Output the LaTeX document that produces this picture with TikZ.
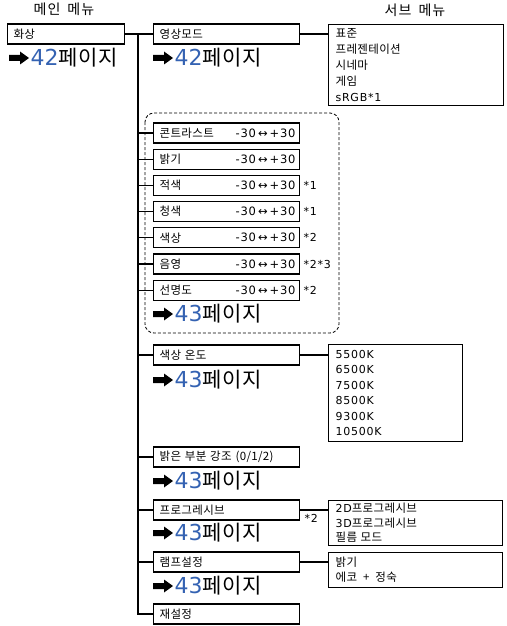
\documentclass[tikz,border=0pt]{standalone}
\usepackage{fontspec}
\setmainfont[LetterSpace=7]{DejaVu Sans}
\newfontfamily\numfont{DejaVu Sans}
\newfontfamily\kr[LetterSpace=3]{Noto Sans CJK KR}
\definecolor{refblue}{RGB}{52,98,178}
\newcommand\pgref[1]{{\numfont\fontsize{22}{22}\selectfont\color{refblue}#1}{\kr\fontsize{21}{21}\selectfont 페이지}}
\begin{document}
\begin{tikzpicture}[x=1pt,y=-1pt,line width=1.15pt,
  mbox/.style={draw,anchor=west,minimum height=20pt,inner xsep=6pt,inner ysep=0pt,
    text width=#1,align=left,font=\kr\fontsize{11.5}{13}\selectfont},
  mbox/.default=134pt,
  smenu/.style={draw,anchor=north west,align=left,inner xsep=7pt,inner ysep=0pt,text width=#1},
  pref/.style={anchor=west,inner sep=0pt},
  val/.style={anchor=east,inner sep=0pt,font=\fontsize{11.5}{13}\selectfont},
  note/.style={anchor=west,inner sep=0pt,font=\fontsize{11}{13}\selectfont},
  ttl/.style={inner sep=0pt,font=\kr\fontsize{14}{16}\selectfont},
  dashframe/.style={draw,dash pattern=on 3pt off 2pt,line width=0.8pt,rounded corners=9pt}]
\useasboundingbox (0,0) rectangle (506,626);

% titles
\node[ttl] (t1) at (64,9) {메\kern1pt인\hspace{7pt}메\kern1pt뉴};
\node[ttl] (t2) at (415,10) {서\kern1pt브\hspace{7pt}메\kern1pt뉴};

% main menu
\node[mbox=105pt] (main) at (7,34) {화상};
\node[pref] (p0) at (30,58) {\pgref{42}};

% sub menu boxes
\node[mbox] (vid) at (153,34) {영상모드};
\node[pref] (p1) at (174,58) {\pgref{42}};

\draw[dashframe] (145,113) rectangle (339,333);
\node[mbox] (c1) at (153,133) {콘트라스트};
\node[mbox] (c2) at (153,159.2) {밝기};
\node[mbox] (c3) at (153,185.4) {적색};
\node[mbox] (c4) at (153,211.6) {청색};
\node[mbox] (c5) at (153,237.8) {색상};
\node[mbox] (c6) at (153,264) {음영};
\node[mbox] (c7) at (153,290.2) {선명도};
\foreach \n in {c1,c2,c3,c4,c5,c6,c7}{
  \node[val] (v\n) at ([xshift=-4pt]\n.east) {-30\hspace{2pt}↔\hspace{2pt}+30};
}
\node[note] (n3) at (303,185.4) {*1};
\node[note] (n4) at (303,211.6) {*1};
\node[note] (n5) at (303,237.8) {*2};
\node[note] (n6) at (303,264) {*2*3};
\node[note] (n7) at (303,290.2) {*2};
\node[pref] (p2) at (174,314) {\pgref{43}};

\node[mbox] (temp) at (153,355) {색상 온도};
\node[pref] (p3) at (174,380) {\pgref{43}};

\node[mbox] (hl) at (153,457) {밝은 부분 강조 (0/1/2)};
\node[pref] (p4) at (174,481) {\pgref{43}};

\node[mbox] (prog) at (153,510) {프로그레시브};
\node[note] (n8) at (304,518) {*2};
\node[pref] (p5) at (174,533) {\pgref{43}};

\node[mbox] (lamp) at (153,562) {램프설정};
\node[pref] (p6) at (174,586) {\pgref{43}};

\node[mbox] (reset) at (153,614) {재설정};

% arrows of the page references
\foreach \p in {p0,p1,p2,p3,p4,p5,p6}{
  \fill ([xshift=-21pt]\p.west) ++(0,-3) -- ++(11,0) -- ++(0,-3.5) -- ++(9,6.5)
    -- ++(-9,6.5) -- ++(0,-3.5) -- ++(-11,0) -- cycle;
}

% third level
\node[smenu=161pt,minimum height=81pt,font=\kr\fontsize{11.5}{16}\selectfont] (vidsub) at (328,24)
  {표준\\프레젠테이션\\시네마\\게임\\{\normalfont\fontsize{11}{16}\selectfont sRGB*1}};
\node[smenu=120pt,minimum height=97pt,font=\fontsize{11}{15.4}\selectfont] (tempsub) at (328,344)
  {5500K\\6500K\\7500K\\8500K\\9300K\\10500K};
\node[smenu=160pt,minimum height=45pt,font=\fontsize{11}{14.5}\selectfont] (progsub) at (328,500)
  {2D{\kr\fontsize{11.5}{14.5}\selectfont 프로그레시브}\\3D{\kr\fontsize{11.5}{14.5}\selectfont 프로그레시브}\\{\kr\fontsize{11.5}{14.5}\selectfont 필름 모드}};
\node[smenu=160pt,minimum height=35pt,font=\kr\fontsize{11.5}{15}\selectfont] (lampsub) at (328,552)
  {밝기\\에코\hspace{6pt}+\hspace{6pt}정숙};

% connectors
\coordinate (tk) at (138,34);
\draw (main.east) -- (vid.west);
\draw (tk) |- (reset.west);
\foreach \n in {c1,c2,c3,c4,c5,c6,c7,temp,hl,prog,lamp}{
  \draw (\n.west) -- (\n.west -| tk);
}
\draw (vid.east) -- (vid.east -| vidsub.west);
\draw (temp.east) -- (temp.east -| tempsub.west);
\draw (prog.east) -- (prog.east -| progsub.west);
\draw (lamp.east) -- (lamp.east -| lampsub.west);
\end{tikzpicture}
\end{document}
